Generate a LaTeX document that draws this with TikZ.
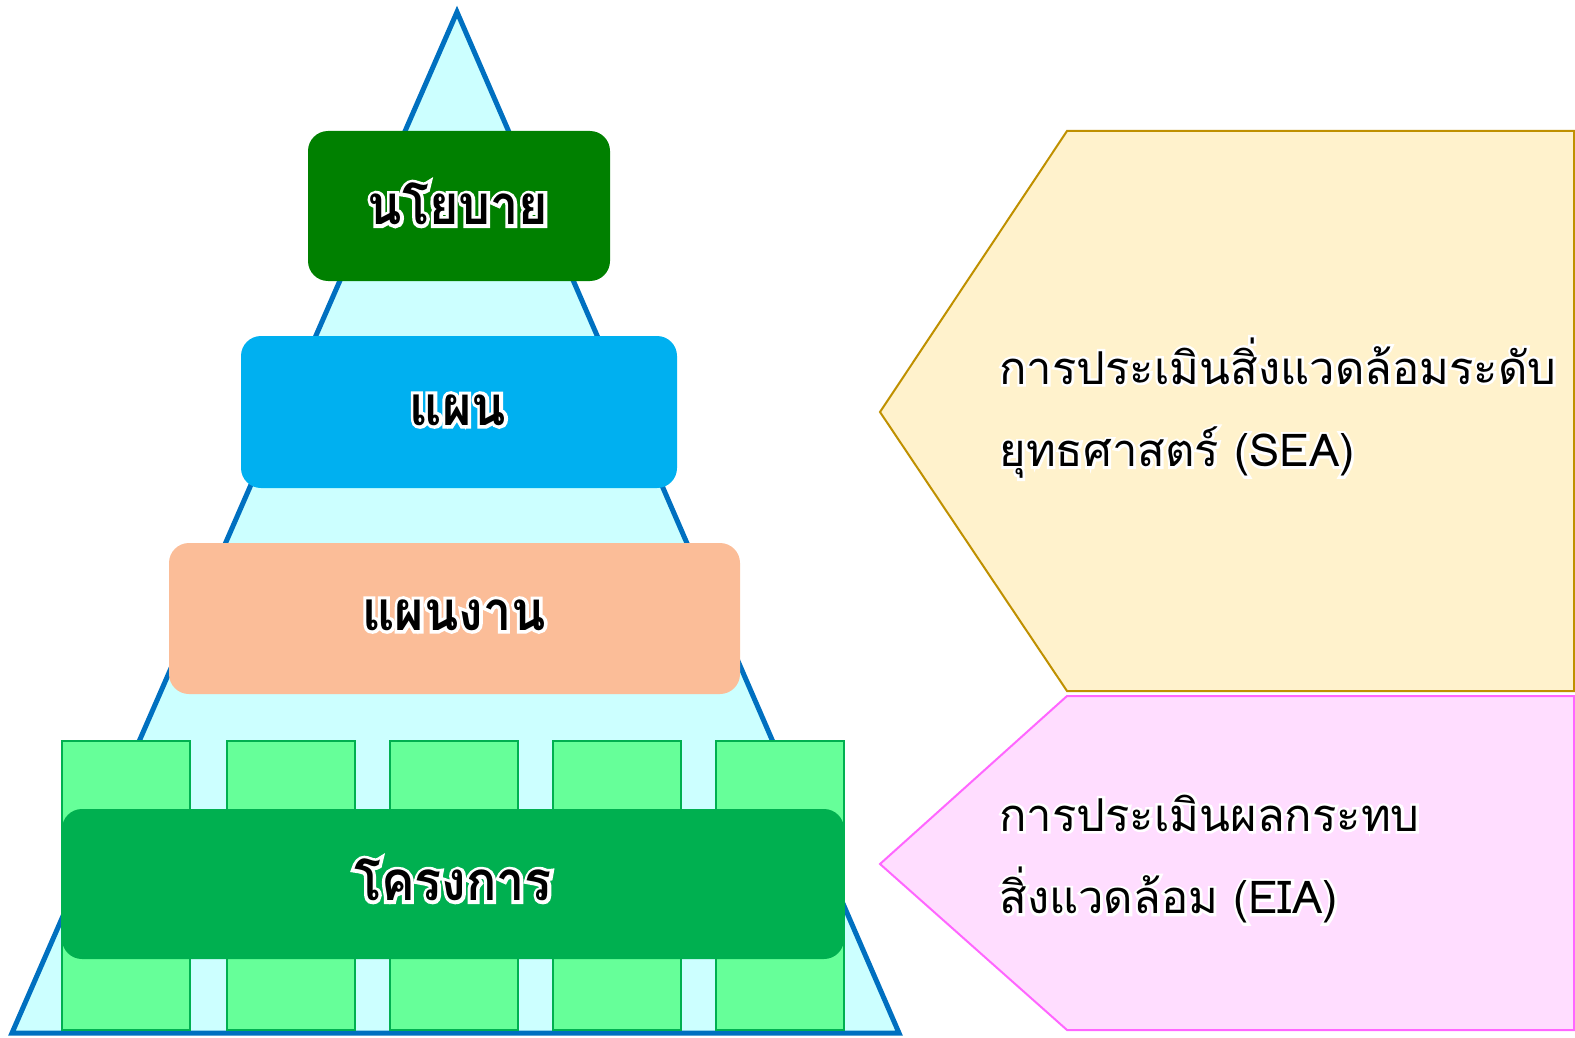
\documentclass[tikz,border=0pt]{standalone}
\usepackage{fontspec}
\newfontfamily\thaifont[Script=Thai]{Loma}
\newfontface\tierfont[Script=Thai, FakeStretch=0.92]{Loma Bold}
\newfontface\tierhalo[Script=Thai, FakeStretch=0.92, FakeBold=12]{Loma Bold}
\newfontface\notehalo[Script=Thai, FakeBold=11]{Loma}

\definecolor{triline}{RGB}{0,112,192}
\definecolor{trifill}{RGB}{204,255,255}
\definecolor{policyfill}{RGB}{0,128,0}
\definecolor{planfill}{RGB}{0,176,240}
\definecolor{programfill}{RGB}{251,189,152}
\definecolor{projectfill}{RGB}{0,176,80}
\definecolor{cellfill}{RGB}{102,255,153}
\definecolor{cellline}{RGB}{0,176,80}
\definecolor{seafill}{RGB}{255,242,204}
\definecolor{sealine}{RGB}{191,144,0}
\definecolor{eiafill}{RGB}{255,221,255}
\definecolor{eialine}{RGB}{255,102,255}

% white halo round a text: #1 = stroked face, #2 = text
\newcommand\glow[2]{\leavevmode\rlap{#1\color{white}#2}#2}

\tikzset{every picture/.style={line width=0.75pt}}

\begin{document}
\begin{tikzpicture}[x=0.75pt,y=0.75pt,yscale=-1,xscale=1,
  tier/.style={rounded corners=15pt},
  cell/.style={fill=cellfill, draw=cellline, line width=1.2pt},
  tierlabel/.style={font=\fontsize{41}{50}\selectfont\tierfont, inner sep=0pt},
  notelabel/.style={font=\fontsize{34}{62}\selectfont\thaifont, align=left, anchor=west, inner sep=0pt}]
\useasboundingbox (0,0) rectangle (1575,1038);

%Triangle
\draw [draw=triline, fill=trifill, line width=3.75pt] (457,12) -- (899,1033) -- (12,1033) -- cycle;

%Cells behind the project bar
\foreach \x in {62,227,390,553,716}
  \draw [cell] (\x,741) rectangle ++(128,289);

%Tiers
\fill [tier, policyfill] (308,131) rectangle (610,281);
\fill [tier, planfill] (241,336) rectangle (677,488);
\fill [tier, programfill] (169,543) rectangle (740,694);
\fill [tier, projectfill] (62,809) rectangle (844,959);

%Pentagons
\draw [draw=sealine, fill=seafill, line width=1.5pt] (880,412) -- (1067,131) -- (1574,131) -- (1574,691) -- (1067,691) -- cycle;
\draw [draw=eialine, fill=eiafill, line width=1.5pt] (880,864) -- (1067,696) -- (1574,696) -- (1574,1030) -- (1067,1030) -- cycle;

% Text Node
\node [tierlabel] (policy) at (458,204) {\glow\tierhalo{นโยบาย}};
% Text Node
\node [tierlabel] (plan) at (458,410) {\glow\tierhalo{แผน}};
% Text Node
\node [tierlabel] (program) at (454,615) {\glow\tierhalo{แผนงาน}};
% Text Node
\node [tierlabel] (project) at (453,880) {\glow\tierhalo{โครงการ}};
% Text Node
\node [notelabel] (sea) at (999,408) {\glow\notehalo{การประเมินสิ่งแวดล้อมระดับ}\\\glow\notehalo{ยุทธศาสตร์ (SEA)}};
% Text Node
\node [notelabel] (eia) at (999,859) {\glow\notehalo{การประเมินผลกระทบ}\\\glow\notehalo{สิ่งแวดล้อม (EIA)}};

\end{tikzpicture}
\end{document}
